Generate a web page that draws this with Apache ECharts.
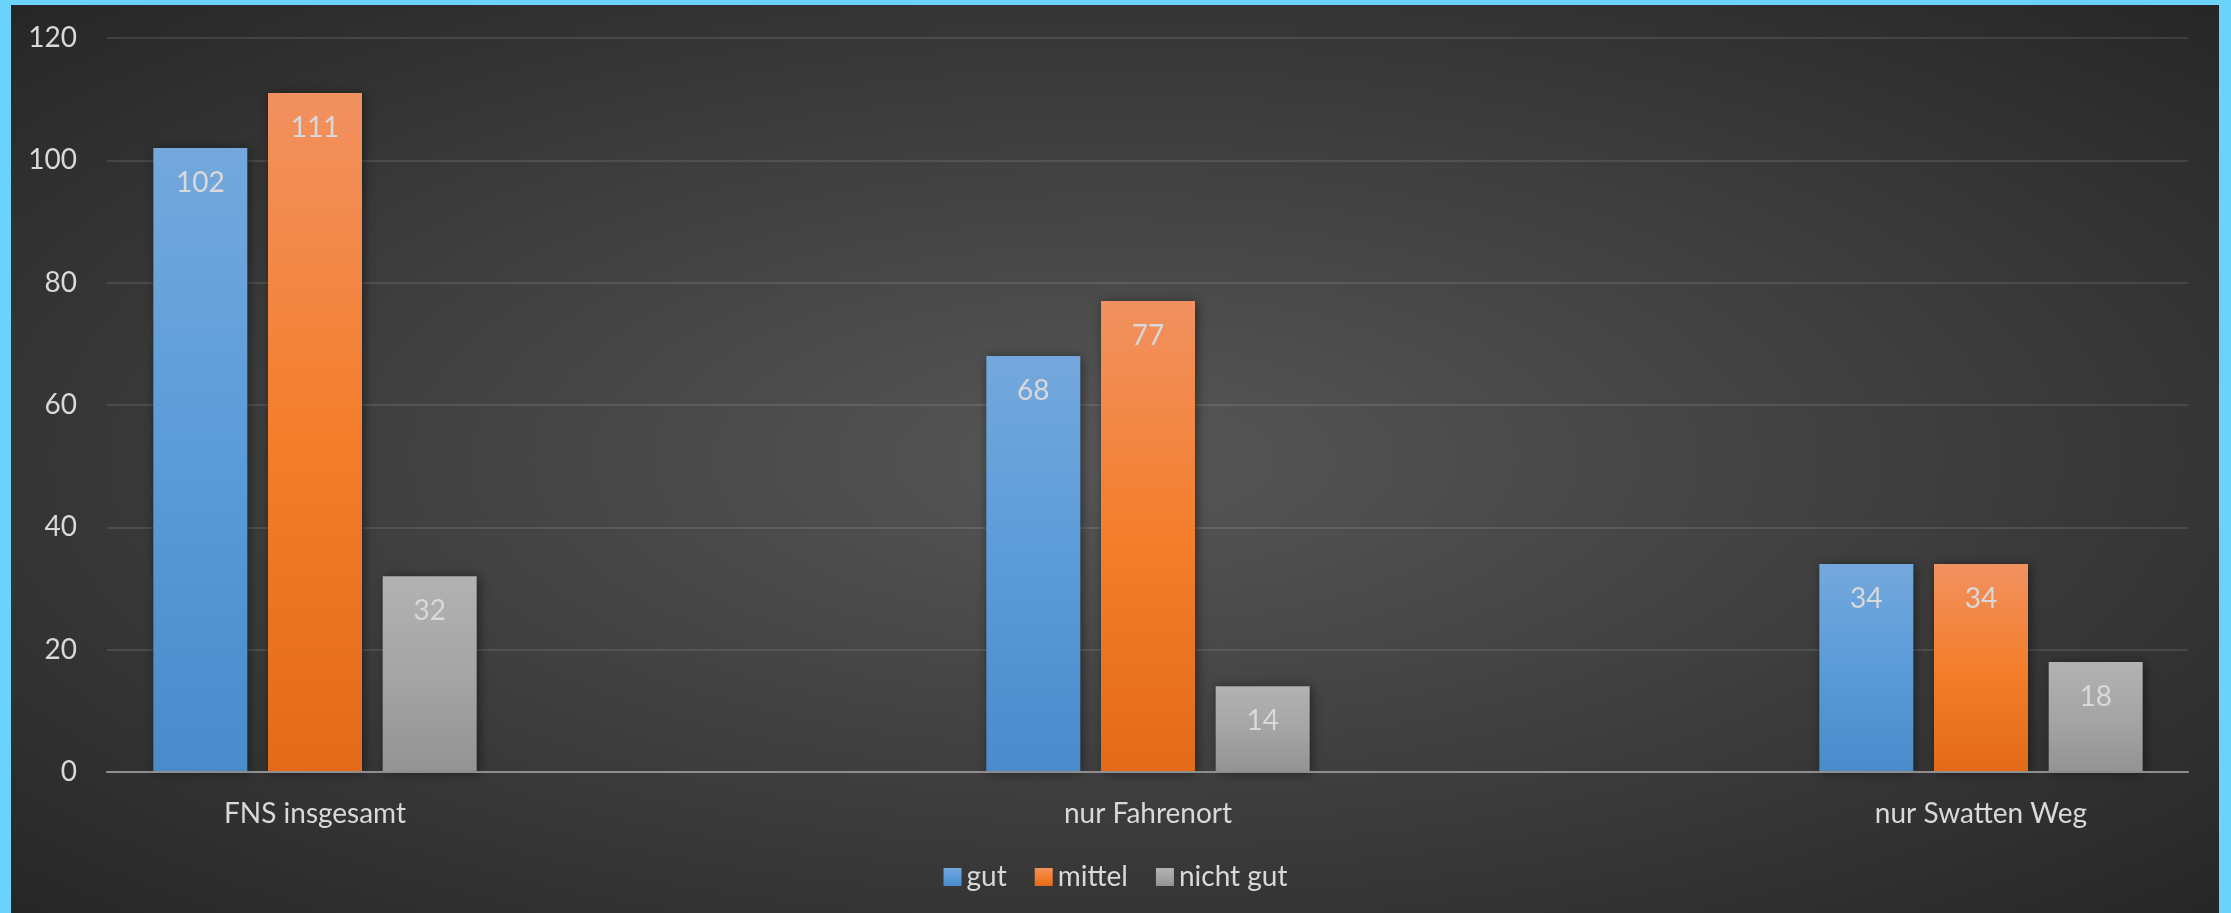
<!DOCTYPE html>
<html>
<head>
<meta charset="utf-8">
<script src="https://cdn.jsdelivr.net/npm/echarts@6/dist/echarts.min.js"></script>
<style>
  html, body { margin: 0; padding: 0; }
  body { width: 2231px; height: 913px; background: #6BD3F9; position: relative; overflow: hidden; }
  #bg { position: absolute; left: 11px; top: 5px; width: 2208px; height: 908px;
        background: radial-gradient(ellipse farthest-corner at 50% 50%, #575757 0%, #3a3a3a 60%, #262626 100%); }
  #chart { position: absolute; left: 0; top: 0; width: 2231px; height: 913px; }
</style>
</head>
<body>
<div id="bg"></div>
<div id="chart"></div>
<script>
const categories = ['FNS insgesamt', 'nur Fahrenort', 'nur Swatten Weg'];
const seriesNames = ['gut', 'mittel', 'nicht gut'];
const gutValues = [102, 68, 34];
const mittelValues = [111, 77, 34];
const nichtGutValues = [32, 14, 18];
const yTicks = { min: 0, max: 120, interval: 20 };

const FONT = 'Lato';
const TXT = '#D9D9D9';

function grad(c0, c1, c2) {
  return { type: 'linear', x: 0, y: 0, x2: 0, y2: 1,
    colorStops: [{ offset: 0, color: c0 }, { offset: 0.5, color: c1 }, { offset: 1, color: c2 }] };
}
const colors = [
  grad('#74A8DD', '#5A9BD9', '#498BCB'),
  grad('#F19160', '#F47E2C', '#E36A18'),
  grad('#B2B2B2', '#A5A5A5', '#939393')
];
const values = [gutValues, mittelValues, nichtGutValues];

const chart = echarts.init(document.getElementById('chart'), null, { renderer: 'canvas' });
chart.setOption({
  backgroundColor: 'transparent',
  animation: false,
  textStyle: { fontFamily: FONT },
  legend: {
    data: seriesNames,
    left: 'center',
    top: 858,
    itemWidth: 18,
    itemHeight: 18,
    itemGap: 28,
    icon: 'rect',
    textStyle: { color: TXT, fontSize: 28, fontFamily: FONT }
  },
  grid: [
    { left: 107, right: 43, top: 38, bottom: 141 },
    { left: 315, right: 250, top: 38, bottom: 141 }
  ],
  xAxis: [
    { gridIndex: 0, type: 'category', data: categories, z: 5,
      axisLine: { show: true, lineStyle: { color: '#8E8E8E', width: 2 } },
      axisTick: { show: false }, axisLabel: { show: false }, splitLine: { show: false } },
    { gridIndex: 1, type: 'category', data: categories, boundaryGap: false,
      axisLine: { show: false }, axisTick: { show: false }, splitLine: { show: false },
      axisLabel: { color: TXT, fontSize: 28, fontFamily: FONT, margin: 28, interval: 0 } }
  ],
  yAxis: [
    { gridIndex: 0, type: 'value', min: yTicks.min, max: yTicks.max, interval: yTicks.interval,
      axisLine: { show: false }, axisTick: { show: false },
      axisLabel: { color: TXT, fontSize: 28, fontFamily: FONT, margin: 30 },
      splitLine: { show: true, lineStyle: { color: 'rgba(255,255,255,0.1)', width: 2 } } },
    { gridIndex: 1, type: 'value', min: yTicks.min, max: yTicks.max, interval: yTicks.interval, show: false,
      splitLine: { show: false } }
  ],
  series: seriesNames.map((name, i) => ({
    name: name,
    type: 'bar',
    xAxisIndex: 1,
    yAxisIndex: 1,
    data: values[i],
    clip: false,
    barWidth: 94,
    barGap: '22%',
    itemStyle: {
      color: colors[i],
      shadowBlur: 10,
      shadowColor: 'rgba(0,0,0,0.45)',
      shadowOffsetX: 2,
      shadowOffsetY: 1
    },
    label: {
      show: true,
      position: 'insideTop',
      distance: 21,
      color: TXT,
      fontSize: 28,
      fontFamily: FONT
    }
  }))
});
</script>
</body>
</html>
